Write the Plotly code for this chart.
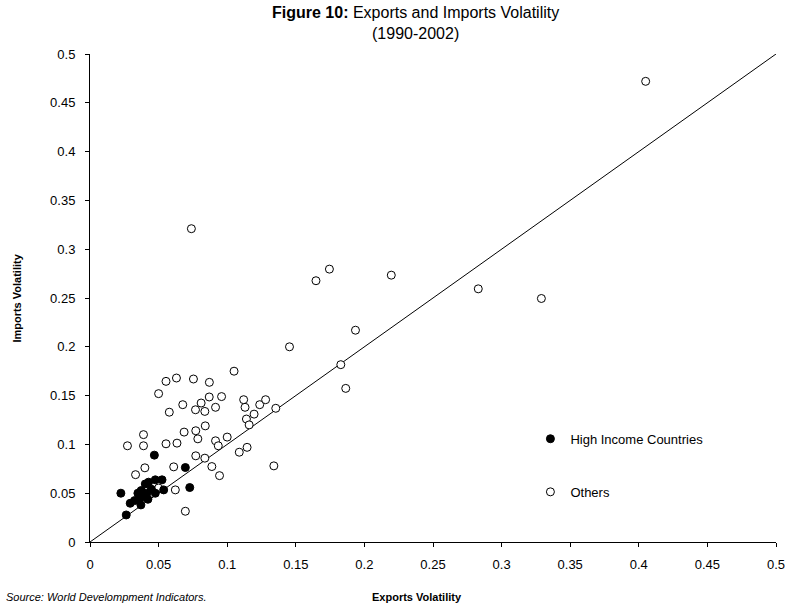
import plotly.graph_objects as go

# High income countries (filled)
hi_x = [0.0469, 0.0695, 0.0727, 0.0225, 0.0264, 0.0293, 0.0325, 0.0349, 0.0373, 0.0361,
        0.0385, 0.0371, 0.0414, 0.0403, 0.0427, 0.0476, 0.0525, 0.0537, 0.0476, 0.0447, 0.0422]
hi_y = [0.0890, 0.0763, 0.0558, 0.0500, 0.0277, 0.0397, 0.0424, 0.0500, 0.0527, 0.0449,
        0.0465, 0.0380, 0.0500, 0.0595, 0.0613, 0.0637, 0.0637, 0.0534, 0.0500, 0.0541, 0.0438]

# Others (open)
ot_x = [0.0273, 0.039, 0.039, 0.050, 0.0554, 0.063, 0.0754, 0.087, 0.0578, 0.0676,
        0.0769, 0.081, 0.0869, 0.0959, 0.0837, 0.0915, 0.0554, 0.0634, 0.0686, 0.0771,
        0.0786, 0.084, 0.0771, 0.0837, 0.040, 0.0332, 0.061, 0.0888, 0.0622, 0.0695,
        0.0456, 0.050, 0.105, 0.112, 0.113, 0.1237, 0.128, 0.1196, 0.114, 0.116,
        0.0915, 0.0935, 0.100, 0.0944, 0.1088, 0.1145, 0.0739, 0.1745, 0.1647, 0.2196,
        0.1935, 0.1454, 0.1828, 0.1864, 0.1354, 0.134, 0.283, 0.329, 0.405]
ot_y = [0.0986, 0.110, 0.0986, 0.152, 0.1646, 0.168, 0.167, 0.1636, 0.133, 0.1407,
        0.1355, 0.1424, 0.1486, 0.149, 0.1338, 0.138, 0.1006, 0.1013, 0.1126, 0.114,
        0.1057, 0.119, 0.0883, 0.0859, 0.076, 0.069, 0.077, 0.0773, 0.0534, 0.0315,
        0.059, 0.0553, 0.175, 0.1458, 0.138, 0.1407, 0.1458, 0.131, 0.126, 0.120,
        0.1037, 0.0986, 0.1075, 0.068, 0.092, 0.097, 0.321, 0.2796, 0.2677, 0.2734,
        0.217, 0.200, 0.1817, 0.1574, 0.137, 0.078, 0.2594, 0.2495, 0.472]

diag = [0, 0.5]
ticks = [0, 0.05, 0.1, 0.15, 0.2, 0.25, 0.3, 0.35, 0.4, 0.45, 0.5]
tick_text = ["0", "0.05", "0.1", "0.15", "0.2", "0.25", "0.3", "0.35", "0.4", "0.45", "0.5"]

FONT = "Liberation Sans, Arial, sans-serif"

fig = go.Figure()
fig.add_trace(go.Scatter(x=diag, y=diag, mode="lines", line=dict(color="black", width=1),
                         showlegend=False, hoverinfo="skip"))
fig.add_trace(go.Scatter(x=ot_x, y=ot_y, mode="markers", name="Others",
                         marker=dict(symbol="circle", size=8, color="white",
                                     line=dict(color="black", width=1)),
                         legend="legend2"))
fig.add_trace(go.Scatter(x=hi_x, y=hi_y, mode="markers", name="High Income Countries",
                         marker=dict(symbol="circle", size=8, color="black",
                                     line=dict(color="black", width=1)),
                         legend="legend"))

axis_common = dict(range=[0, 0.5], tickvals=ticks, ticktext=tick_text, showgrid=False,
                   zeroline=False, showline=True, linecolor="black", linewidth=1,
                   ticks="outside", ticklen=4, tickcolor="black", tickwidth=1,
                   automargin=False,
                   tickfont=dict(family=FONT, size=13, color="black"))

fig.update_layout(
    width=789, height=606,
    margin=dict(l=90, r=13, t=54, b=64),
    paper_bgcolor="white", plot_bgcolor="white",
    font=dict(family=FONT, color="black"),
    xaxis=dict(**axis_common, ticklabelstandoff=6),
    yaxis=dict(**axis_common, ticklabelstandoff=7),
    legend=dict(x=0.642, y=0.2115, xanchor="left", yanchor="middle",
                font=dict(family=FONT, size=13, color="black"), bgcolor="rgba(0,0,0,0)"),
    legend2=dict(x=0.642, y=0.1027, xanchor="left", yanchor="middle",
                 font=dict(family=FONT, size=13, color="black"), bgcolor="rgba(0,0,0,0)"),
    annotations=[
        dict(text="<b>Figure 10:</b> Exports and Imports Volatility<br>(1990-2002)",
             xref="paper", yref="paper", x=0.475, y=1.063, xanchor="center", yanchor="middle",
             showarrow=False, font=dict(family=FONT, size=16, color="black")),
        dict(text="<b>Imports Volatility</b>", xref="paper", yref="paper", x=-0.107, y=0.5,
             xanchor="center", yanchor="middle", textangle=-90, showarrow=False,
             font=dict(family=FONT, size=11, color="black")),
        dict(text="<b>Exports Volatility</b>", xref="paper", yref="paper", x=0.477, y=-0.113,
             xanchor="center", yanchor="middle", showarrow=False,
             font=dict(family=FONT, size=11, color="black")),
        dict(text="<i>Source: World Develompment Indicators.</i>", xref="paper", yref="paper",
             x=-0.126, y=-0.113, xanchor="left", yanchor="middle", showarrow=False,
             font=dict(family=FONT, size=11, color="black")),
    ],
)

fig.write_html("out.html")
